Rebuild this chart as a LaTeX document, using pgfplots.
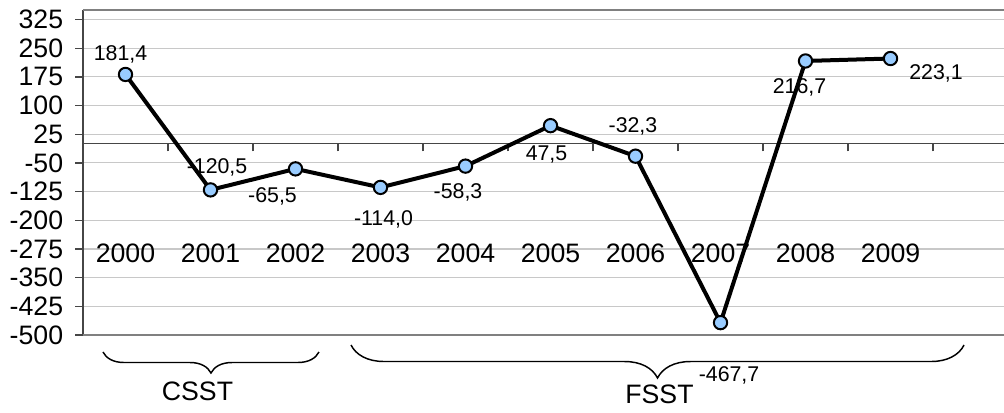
\documentclass[border=0pt]{standalone}
\usepackage{fontspec}
\setmainfont{Liberation Sans}
\usepackage{pgfplots}
\pgfplotsset{compat=1.18}
\usetikzlibrary{decorations.pathreplacing}

\definecolor{markfill}{RGB}{153,204,255}
\definecolor{gridgray}{RGB}{200,200,200}
\definecolor{bordergray}{RGB}{128,128,128}
\definecolor{axisgray}{RGB}{70,70,70}

\newcommand{\axisfont}{\fontsize{20}{23}\selectfont}
\newcommand{\labfont}{\fontsize{16}{19}\selectfont}

\begin{document}
\begin{tikzpicture}
\begin{axis}[
    scale only axis,
    width=690.75pt, height=243.75pt,
    xmin=1999.5, xmax=2010.335,
    ymin=-500, ymax=350,
    axis x line*=middle,
    axis y line*=left,
    x axis line style={color=axisgray, line width=1pt},
    y axis line style={color=axisgray, line width=1.5pt},
    xtick={2000.5,2001.5,...,2009.5},
    xticklabels={},
    ytick={-500,-425,...,325},
    yticklabels={-500,-425,-350,-275,-200,-125,-50,25,100,175,250,325},
    tick align=outside,
    xtick align=outside,
    major tick length=5.75pt,
    x tick style={color=axisgray, line width=1pt},
    y tick style={color=axisgray, line width=1pt},
    yticklabel style={font=\axisfont, inner sep=0pt, anchor=east, xshift=-9pt},
    ymajorgrids=true,
    major grid style={gridgray, line width=0.8pt},
    clip=false,
]

% data labels
\node[font=\labfont, xshift=-3.75pt, yshift=15pt]   at (axis cs:2000,181.4)  {181,4};
\node[font=\labfont, xshift=4.9pt,   yshift=16.9pt] at (axis cs:2001,-120.5) {-120,5};
\node[font=\labfont, xshift=-17.25pt,yshift=-20.6pt] at (axis cs:2002,-65.5) {-65,5};
\node[font=\labfont, xshift=2.25pt,  yshift=-24pt]  at (axis cs:2003,-114.0) {-114,0};
\node[font=\labfont, xshift=-5.6pt,  yshift=-20pt]  at (axis cs:2004,-58.3)  {-58,3};
\node[font=\labfont, xshift=-3pt,    yshift=-21.4pt] at (axis cs:2005,47.5)  {47,5};
\node[font=\labfont, xshift=-1.9pt,  yshift=22.5pt] at (axis cs:2006,-32.3)  {-32,3};
\node[font=\labfont, xshift=6.4pt,   yshift=-39.75pt] at (axis cs:2007,-467.7) {-467,7};
\node[font=\labfont, xshift=-4.5pt,  yshift=-19.5pt] at (axis cs:2008,216.7) {216,7};
\node[font=\labfont, xshift=34.1pt,  yshift=-10.9pt] at (axis cs:2009,223.1) {223,1};

\addplot[black, line width=3pt, mark=*, mark size=5pt,
    mark options={fill=markfill, draw=black, line width=1.5pt}]
    coordinates {
    (2000,181.4) (2001,-120.5) (2002,-65.5) (2003,-114.0) (2004,-58.3)
    (2005,47.5) (2006,-32.3) (2007,-467.7) (2008,216.7) (2009,223.1)
    };

% year labels inside the plot area
\pgfplotsinvokeforeach{2000,...,2009}{
    \node[font=\axisfont] at (axis cs:#1,-286.8) {#1};
}

% plot area border (top and bottom)
\draw[bordergray, line width=1.5pt] (rel axis cs:0,1) -- (rel axis cs:1,1);
\draw[bordergray, line width=1.5pt] (rel axis cs:0,0) -- (rel axis cs:1,0);

% braces
\draw[decorate, decoration={brace, mirror, amplitude=15.75pt}, line width=1.1pt]
    (axis cs:1999.735,-544.5) -- (axis cs:2002.276,-544.5);
\draw[decorate, decoration={brace, mirror, amplitude=24.75pt}, line width=1.1pt]
    (axis cs:2002.653,-526.2) -- (axis cs:2009.865,-526.2);
\node[font=\axisfont] at (axis cs:2000.847,-646.5) {CSST};
\node[font=\axisfont] at (axis cs:2006.282,-654.3) {FSST};

\coordinate (LL) at (rel axis cs:0,0);
\coordinate (UR) at (rel axis cs:1,1);
\end{axis}
\pgfresetboundingbox
\path[use as bounding box] ([shift={(-62.25pt,-58.5pt)}]LL) rectangle ([shift={(0pt,7.5pt)}]UR);
\end{tikzpicture}
\end{document}
